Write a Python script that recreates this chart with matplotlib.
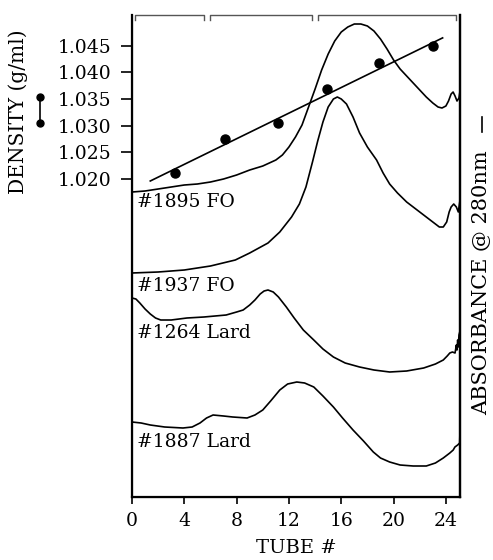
import matplotlib
matplotlib.use("Agg")
import matplotlib.pyplot as plt
from matplotlib.lines import Line2D
import matplotlib.transforms as mtransforms

plt.rcParams['font.family'] = ['DejaVu Serif']

# density gradient points (tube #, g/ml) and fitted line
dens_tube = [3.3, 7.1, 11.2, 14.9, 18.9, 23.0]
dens_val = [1.0211, 1.0275, 1.0305, 1.0369, 1.0418, 1.0450]
fit_tube = [1.4, 23.75]
fit_val = [1.0196, 1.0465]

# absorbance traces (relative units, stacked)
t1895 = [0.0, 1.0, 2.0, 3.0, 4.0, 5.0, 6.0, 7.0, 8.0, 9.0, 10.0, 10.5, 11.0, 11.5, 12.0,
         12.5, 13.0, 13.5, 14.0, 14.5, 15.0, 15.5, 16.0, 16.5, 17.0, 17.5, 18.0, 18.5,
         19.0, 19.5, 20.0, 20.5, 21.0, 21.5, 22.0, 22.5, 23.0, 23.4, 23.7, 24.0, 24.2,
         24.4, 24.55, 24.7, 24.85, 25.0, 25.08]
a1895 = [3.05, 3.06, 3.08, 3.10, 3.12, 3.13, 3.15, 3.18, 3.22, 3.27, 3.31, 3.34, 3.37, 3.42,
         3.50, 3.60, 3.72, 3.90, 4.08, 4.27, 4.43, 4.56, 4.65, 4.70, 4.73, 4.73, 4.71, 4.66,
         4.58, 4.48, 4.37, 4.28, 4.21, 4.14, 4.07, 4.00, 3.94, 3.90, 3.89, 3.91, 3.96,
         4.03, 4.05, 4.01, 3.96, 3.99, 4.06]

t1937 = [0.0, 2.0, 4.0, 6.0, 7.9, 9.0, 10.4, 11.3, 12.2, 12.8, 13.3, 13.8, 14.2, 14.6, 15.0,
         15.4, 15.7, 16.0, 16.4, 16.9, 17.4, 18.0, 18.7, 19.2, 19.7, 20.3, 21.0, 21.8, 22.5,
         23.0, 23.5, 23.8, 24.06, 24.25, 24.4, 24.6, 24.8, 24.95, 25.08]
a1937 = [2.24, 2.25, 2.27, 2.31, 2.37, 2.44, 2.54, 2.65, 2.80, 2.93, 3.10, 3.35, 3.56, 3.75,
         3.90, 3.98, 4.00, 3.98, 3.93, 3.80, 3.64, 3.50, 3.37, 3.24, 3.13, 3.04, 2.95, 2.87,
         2.80, 2.75, 2.70, 2.70, 2.75, 2.85, 2.90, 2.93, 2.90, 2.85, 2.97]

t1264 = [0.0, 0.3, 0.6, 1.0, 1.4, 1.8, 2.2, 3.0, 4.2, 5.5, 7.2, 8.0, 8.5, 9.0, 9.4, 9.8,
         10.1, 10.4, 10.8, 11.2, 11.8, 12.4, 13.1, 13.9, 14.6, 15.4, 16.3, 17.4, 18.5,
         19.7, 21.0, 22.3, 23.2, 23.8, 24.1, 24.3, 24.5, 24.7, 24.8, 24.85, 24.9, 24.95,
         25.0, 25.08]
a1264 = [1.99, 1.98, 1.94, 1.88, 1.83, 1.79, 1.77, 1.77, 1.79, 1.80, 1.82, 1.85, 1.87, 1.92,
         1.97, 2.03, 2.06, 2.07, 2.05, 2.00, 1.90, 1.79, 1.67, 1.57, 1.48, 1.40, 1.34, 1.30,
         1.27, 1.25, 1.26, 1.29, 1.33, 1.37, 1.41, 1.44, 1.45, 1.44, 1.52, 1.47, 1.57, 1.50,
         1.62, 1.66]

t1887 = [0.0, 0.7, 1.4, 2.5, 3.9, 4.6, 5.2, 5.7, 6.2, 7.0, 7.7, 8.8, 9.4, 10.0, 10.6, 11.3,
         11.9, 12.6, 13.2, 13.9, 14.6, 15.4, 16.1, 16.9, 17.7, 18.45, 19.0, 19.7, 20.5,
         21.5, 22.5, 23.2, 23.8, 24.3, 24.56, 24.69, 24.9, 25.05, 25.08]
a1887 = [0.75, 0.74, 0.72, 0.70, 0.69, 0.70, 0.74, 0.79, 0.82, 0.81, 0.80, 0.79, 0.82, 0.87,
         0.96, 1.07, 1.13, 1.15, 1.14, 1.10, 1.01, 0.90, 0.79, 0.67, 0.56, 0.45, 0.39, 0.35,
         0.32, 0.31, 0.31, 0.34, 0.39, 0.44, 0.47, 0.50, 0.52, 0.54, 0.67]

trace_names = ['#1895 FO', '#1937 FO', '#1264 Lard', '#1887 Lard']
label_y = [2.95, 2.11, 1.64, 0.555]

# pooled fractions bracketed at the top
pool_start = [0.23, 5.96, 14.24]
pool_end = [5.5, 13.8, 24.8]

x_ticks = [0, 4, 8, 12, 16, 20, 24]
y_ticks = [1.020, 1.025, 1.030, 1.035, 1.040, 1.045]

fig = plt.figure(figsize=(4.93, 5.6), dpi=100)
ax = fig.add_axes([0.2677, 0.1125, 0.6654, 0.8607])
ax.set_xlim(0, 25.08)
ax.set_ylim(0.9602, 1.0508)

ax.plot(fit_tube, fit_val, color='black', lw=1.2)
ax.plot(dens_tube, dens_val, 'o', color='black', ms=6.5)

ax.set_xticks(x_ticks)
ax.set_yticks(y_ticks)
ax.set_yticklabels([f'{v:.3f}' for v in y_ticks])
ax.tick_params(axis='x', direction='out', length=5, width=1.2, pad=6, labelsize=13.5)
ax.tick_params(axis='y', direction='out', length=8, width=1.2, pad=7, labelsize=13.5)
ax.spines['top'].set_visible(False)
for s in ['left', 'bottom', 'right']:
    ax.spines[s].set_linewidth(1.6)
ax.set_xlabel('TUBE #', fontsize=14, labelpad=6)

ax2 = ax.twinx()
ax2.set_ylim(0, 4.82)
ax2.set_yticks([])
ax2.spines['top'].set_visible(False)
ax2.spines['right'].set_linewidth(1.6)
for tt, aa in [(t1895, a1895), (t1937, a1937), (t1264, a1264), (t1887, a1887)]:
    ax2.plot(tt, aa, color='black', lw=1.2, solid_joinstyle='round')
for name, yy in zip(trace_names, label_y):
    ax2.text(0.4, yy, name, fontsize=13.5, va='center', ha='left')

# brackets over pooled tubes
trans = mtransforms.blended_transform_factory(ax.transData, ax.transAxes)
for x0, x1 in zip(pool_start, pool_end):
    ax.plot([x0, x0, x1, x1], [0.99, 1.0, 1.0, 0.99], color='#555555', lw=1,
            transform=trans, clip_on=False)

# axis titles with their legend glyphs
fig.text(0.036, 0.80, 'DENSITY (g/ml)', rotation=90, fontsize=14.5, ha='center', va='center')
fig.add_artist(Line2D([0.081, 0.081], [0.827, 0.78], color='black', lw=1.2,
                      marker='o', ms=5, transform=fig.transFigure))
fig.text(0.977, 0.496, 'ABSORBANCE @ 280nm', rotation=90, fontsize=15, ha='center', va='center')
fig.add_artist(Line2D([0.978, 0.978], [0.791, 0.765], color='black', lw=1.2,
                      transform=fig.transFigure))

fig.savefig('out.png', dpi=100)
